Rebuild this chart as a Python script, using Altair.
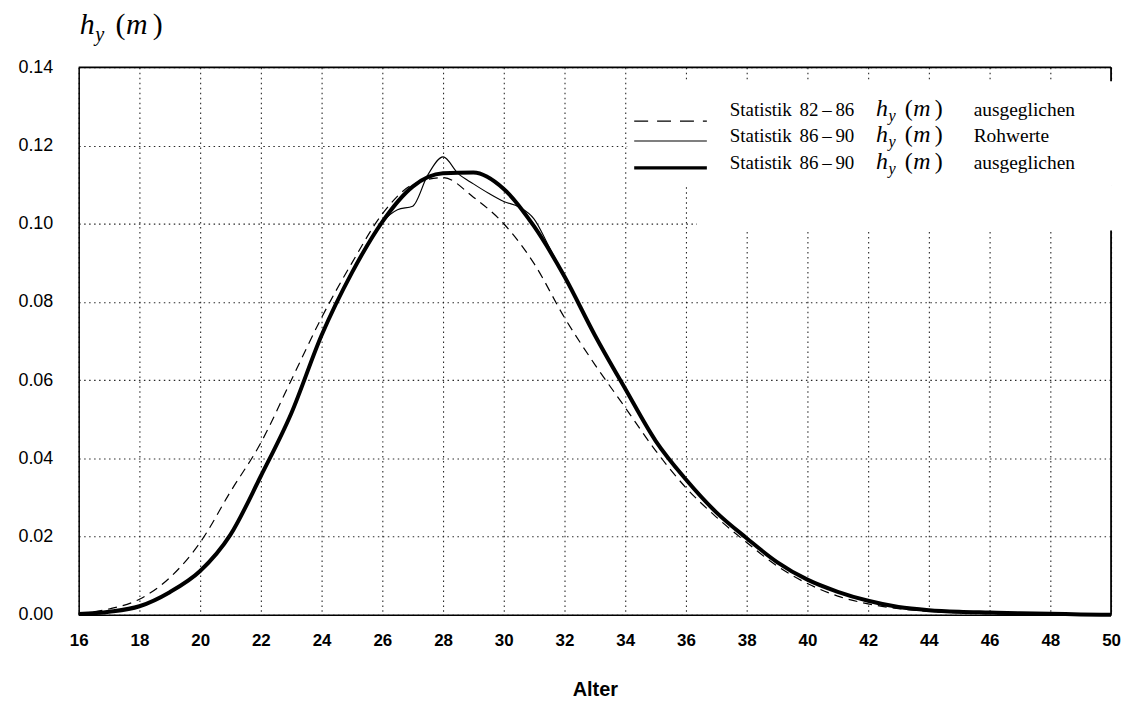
import altair as alt
import pandas as pd

# ---------------- data ----------------
AGES = list(range(16, 51))

# Statistik 82-86 h_y(m) ausgeglichen (dashed)
H_82_86_SMOOTH = [0.0003, 0.0015, 0.0040, 0.0095, 0.0185, 0.0315, 0.0440, 0.0600,
                  0.0760, 0.0900, 0.1025, 0.1100, 0.1118, 0.1068, 0.1000, 0.0898,
                  0.0760, 0.0640, 0.0530, 0.0420, 0.0325, 0.0250, 0.0185, 0.0125,
                  0.0080, 0.0048, 0.0028, 0.0016, 0.0009, 0.0005, 0.0003, 0.0002,
                  0.0001, 0.0000, 0.0000]

# Statistik 86-90 h_y(m) ausgeglichen (thick)
H_86_90_SMOOTH = [0.0002, 0.0008, 0.0022, 0.0058, 0.0112, 0.0205, 0.0355, 0.0515,
                  0.0715, 0.0875, 0.1005, 0.1095, 0.1129, 0.1131, 0.1089, 0.0993,
                  0.0865, 0.0715, 0.0578, 0.0445, 0.0346, 0.0262, 0.0196, 0.0135,
                  0.0090, 0.0059, 0.0036, 0.0020, 0.0012, 0.0008, 0.0006, 0.0004,
                  0.0003, 0.0001, 0.0000]

# Statistik 86-90 h_y(m) Rohwerte (thin)
AGES_RAW = [16, 17, 18, 19, 20, 21, 22, 23, 24, 25,
            25.5, 26, 26.5, 27, 27.5, 28, 28.5, 29, 29.5, 30, 30.5, 31, 31.5,
            32, 33, 34, 35, 36, 37, 38, 39, 40, 41, 42, 43, 44, 45, 46, 47, 48, 49, 50]
H_86_90_RAW = [0.0002, 0.0009, 0.0023, 0.0058, 0.0110, 0.0205, 0.0352, 0.0518, 0.0712, 0.0878,
               0.0945, 0.1004, 0.1036, 0.1045, 0.1125, 0.1171, 0.1128, 0.1102, 0.1078, 0.1057,
               0.1043, 0.1012, 0.0940,
               0.0865, 0.0715, 0.0578, 0.0447, 0.0344, 0.0262, 0.0197, 0.0134, 0.0091, 0.0058,
               0.0037, 0.0021, 0.0012, 0.0008, 0.0006, 0.0004, 0.0002, 0.0001, 0.0000]

X_TICKS = list(range(16, 51, 2))
Y_TICKS = [0.0, 0.02, 0.04, 0.06, 0.08, 0.10, 0.12, 0.14]

SERIES = ["82-86 ausgeglichen", "86-90 Rohwerte", "86-90 ausgeglichen"]
LEGEND_WORD = "Statistik"
LEGEND_PERIOD = ["82\u2009\u2013\u200986", "86\u2009\u2013\u200990", "86\u2009\u2013\u200990"]
LEGEND_SUFFIX = ["ausgeglichen", "Rohwerte", "ausgeglichen"]

# ---------------- build table ----------------
df = pd.concat([
    pd.DataFrame({"age": AGES, "h": H_82_86_SMOOTH, "series": SERIES[0]}),
    pd.DataFrame({"age": AGES_RAW, "h": H_86_90_RAW, "series": SERIES[1]}),
    pd.DataFrame({"age": AGES, "h": H_86_90_SMOOTH, "series": SERIES[2]}),
], ignore_index=True)

W, H = 1037, 550
SERIF = "Liberation Serif"
SANS = "Liberation Sans"

grid_kw = dict(grid=True, gridColor="#111111", gridDash=[1.5, 3.5], gridWidth=1.1,
               gridOpacity=0.9, labelFlush=False, ticks=False, tickSize=0,
               domain=True, domainColor="black", domainWidth=1.5,
               labelColor="black", titleColor="black")

xenc = alt.X("age:Q",
             scale=alt.Scale(domain=[16, 50], nice=False, zero=False),
             axis=alt.Axis(values=X_TICKS, title="Alter", format="d",
                           labelFont=SANS, labelFontSize=17, labelFontWeight="bold",
                           labelPadding=18, titleFont=SANS, titleFontSize=20,
                           titleFontWeight="bold", titlePadding=31, **grid_kw))
yenc = alt.Y("h:Q",
             scale=alt.Scale(domain=[0, 0.14], nice=False),
             axis=alt.Axis(values=Y_TICKS, format=".2f", title=None,
                           labelFont=SANS, labelFontSize=18, labelPadding=26, **grid_kw))

base = alt.Chart(df)

# grid + axes carrier (invisible points so axes/grid are drawn)
axes_layer = base.mark_point(opacity=0).encode(x=xenc, y=yenc)

one = pd.DataFrame({"k": [0]})


def box(x1, x2, y1, y2):
    return alt.Chart(one).mark_rect(color="white").encode(
        x=alt.value(x1), x2=alt.value(x2), y=alt.value(y1), y2=alt.value(y2))


legend_bg = box(551, W + 2, 14, 119) + box(621, W + 2, 119, 164)


def rule(x1, x2, y1, y2, width=1.5, dash=None):
    kw = dict(color="black", strokeWidth=width)
    if dash:
        kw["strokeDash"] = dash
    return alt.Chart(one).mark_rule(**kw).encode(
        x=alt.value(x1), x2=alt.value(x2), y=alt.value(y1), y2=alt.value(y2))


frame = rule(0, W, 0, 0, 1.8) + rule(W, W, 0, 14, 1.8) + rule(W, W, 164, H, 1.8)

line_dashed = base.transform_filter(alt.datum.series == SERIES[0]).mark_line(
    color="black", strokeWidth=1.2, strokeDash=[9, 6], interpolate="monotone"
).encode(x="age:Q", y="h:Q")
line_raw = base.transform_filter(alt.datum.series == SERIES[1]).mark_line(
    color="black", strokeWidth=1.1, interpolate="monotone"
).encode(x="age:Q", y="h:Q")
line_smooth = base.transform_filter(alt.datum.series == SERIES[2]).mark_line(
    color="black", strokeWidth=4, interpolate="monotone"
).encode(x="age:Q", y="h:Q")


def txt(s, x, y, size, italic=False, font=SERIF):
    kw = dict(text=s, align="left", baseline="alphabetic", font=font,
              fontSize=size, color="black")
    if italic:
        kw["fontStyle"] = "italic"
    return alt.Chart(one).mark_text(**kw).encode(x=alt.value(x), y=alt.value(y))


def math_h(x, y, size):
    # h_y(m)
    sub = size * 0.68
    return (txt("h", x, y, size, True)
            + txt("y", x + size * 0.52, y + size * 0.22, sub, True)
            + txt("(", x + size * 1.2, y, size)
            + txt("m", x + size * 1.55, y, size, True)
            + txt(")", x + size * 2.45, y, size))


# title h_y(m) above the y axis
title = math_h(1, -33, 30)

# legend
leg_layers = []
sym_y = [54, 74, 101]
txt_y = [49, 75, 102]
styles = [dict(width=1.3, dash=[14, 9]), dict(width=1.2), dict(width=3.2)]
for i in range(3):
    leg_layers.append(rule(558, 631, sym_y[i], sym_y[i], **styles[i]))
    leg_layers.append(txt(LEGEND_WORD, 654, txt_y[i], 19))
    leg_layers.append(txt(LEGEND_PERIOD[i], 724, txt_y[i], 19))
    leg_layers.append(math_h(801, txt_y[i], 24))
    leg_layers.append(txt(LEGEND_SUFFIX[i], 899, txt_y[i], 19.5))

legend = alt.layer(*leg_layers)

chart = alt.layer(
    axes_layer, legend_bg, frame, line_dashed, line_raw, line_smooth, legend, title
).properties(
    width=W, height=H,
    autosize=alt.AutoSizeParams(type="none"),
    padding={"left": 71, "top": 58, "right": 12, "bottom": 92},
).configure_view(
    stroke=None
).configure(background="white")

chart.save("out.html", embed_options={"renderer": "svg", "actions": False})
